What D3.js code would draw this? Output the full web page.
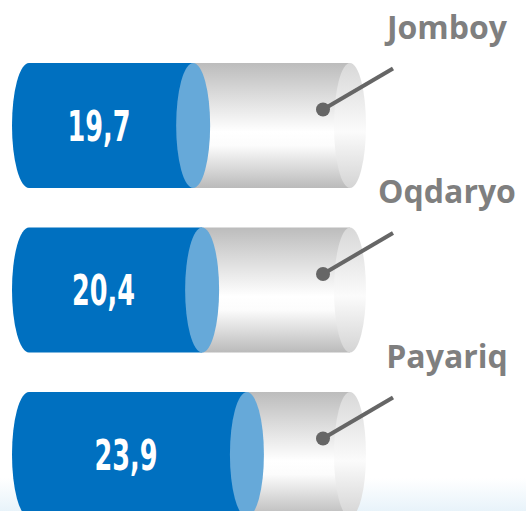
<!DOCTYPE html>
<html>
<head>
<meta charset="utf-8">
<script src="https://cdn.jsdelivr.net/npm/d3@7"></script>
<style>
  body { margin: 0; background: #fff; }
  svg { display: block; }
</style>
</head>
<body>
<div id="container"></div>
<script>
// data
const districts = ["Jomboy", "Oqdaryo", "Payariq"];
const values = [19.7, 20.4, 23.9];

const W = 526, H = 511;
const ry = 62.5, rx = 17;
const L = 29, R = 350; // cylinder ends

const fmt = d3.formatLocale({ decimal: ",", thousands: " ", grouping: [3], currency: ["", ""] }).format(".1f");

const x = d3.scaleLinear().domain([15, 25]).range([133, 261]);
const y = d3.scalePoint().domain(districts).range([125.5, 454.5]);

const svg = d3.select("#container").append("svg")
  .attr("width", W).attr("height", H);

const defs = svg.append("defs");

// background tint at bottom
const bg = defs.append("linearGradient").attr("id", "bg").attr("x1", 0).attr("x2", 0).attr("y1", 0).attr("y2", 1);
bg.append("stop").attr("offset", "0%").attr("stop-color", "#ffffff");
bg.append("stop").attr("offset", "100%").attr("stop-color", "#e8f3fa");
svg.append("rect").attr("x", 0).attr("y", 478).attr("width", W).attr("height", H - 478).attr("fill", "url(#bg)");

const body = defs.append("linearGradient").attr("id", "body").attr("x1", 0).attr("x2", 0).attr("y1", 0).attr("y2", 1);
[["0%", "#bcbcbc"], ["55%", "#ffffff"], ["66%", "#fcfcfc"], ["100%", "#bababa"]].forEach(s =>
  body.append("stop").attr("offset", s[0]).attr("stop-color", s[1]));

const cap = defs.append("linearGradient").attr("id", "cap").attr("x1", 0).attr("x2", 0).attr("y1", 0).attr("y2", 1);
[["0%", "#d8d8d8"], ["55%", "#fbfbfb"], ["100%", "#d4d4d4"]].forEach(s =>
  cap.append("stop").attr("offset", s[0]).attr("stop-color", s[1]));

const rows = districts.map((d, i) => ({ name: d, value: values[i] }));

const g = svg.selectAll("g.cyl")
  .data(rows)
  .enter()
  .append("g")
  .attr("class", "cyl")
  .attr("transform", d => `translate(0, ${y(d.name)})`);

// gray part
g.append("rect")
  .attr("x", d => x(d.value))
  .attr("y", -ry)
  .attr("width", d => R - x(d.value))
  .attr("height", ry * 2)
  .attr("fill", "url(#body)");

g.append("ellipse")
  .attr("cx", R).attr("cy", 0)
  .attr("rx", rx - 1).attr("ry", ry)
  .attr("fill", "url(#cap)");

// blue part
g.append("path")
  .attr("fill", "#0070c0")
  .attr("d", d => `M${L},${-ry} L${x(d.value)},${-ry} L${x(d.value)},${ry} L${L},${ry} A${rx},${ry} 0 0 1 ${L},${-ry} Z`);

g.append("ellipse")
  .attr("cx", d => x(d.value)).attr("cy", 0)
  .attr("rx", rx).attr("ry", ry)
  .attr("fill", "#66a9d9");

// value labels
g.append("text")
  .attr("transform", d => `translate(${(L + x(d.value)) / 2 - 12}, 15) scale(0.66,1)`)
  .attr("text-anchor", "middle")
  .attr("font-family", "'DejaVu Sans Condensed', sans-serif")
  .attr("font-weight", "bold")
  .attr("font-size", 43)
  .attr("fill", "#fff")
  .text(d => fmt(d.value));

// leader
const dotX = 323, dotY = -16, endX = 393, endY = -57;
g.append("line")
  .attr("x1", dotX).attr("y1", dotY)
  .attr("x2", endX).attr("y2", endY)
  .attr("stroke", "#666").attr("stroke-width", 4);
g.append("circle")
  .attr("cx", dotX).attr("cy", dotY).attr("r", 7)
  .attr("fill", "#666");

g.append("text")
  .attr("x", 447).attr("y", -87)
  .attr("text-anchor", "middle")
  .attr("font-family", "'Open Sans', sans-serif")
  .attr("font-weight", "bold")
  .attr("font-size", 32)
  .attr("fill", "#7f7f7f")
  .text(d => d.name);
</script>
</body>
</html>
